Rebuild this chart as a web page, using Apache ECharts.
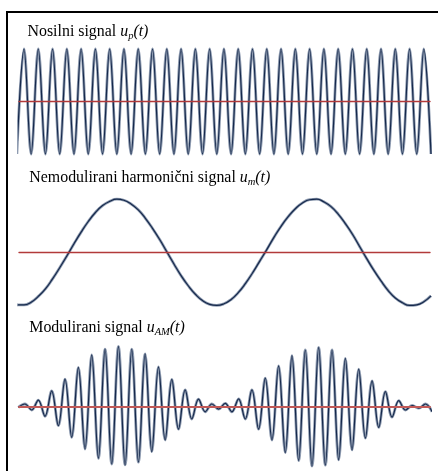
<!DOCTYPE html>
<html><head><meta charset="utf-8">
<script src="https://cdn.jsdelivr.net/npm/echarts@6/dist/echarts.min.js"></script>
<style>html,body{margin:0;padding:0;background:#fff}#c{width:438px;height:471px}</style>
</head><body><div id="c"></div><script>
// Extremum values (one value per half period of the carrier)
const carrierValues = [-1,1,-1,1,-1,1,-1,1,-1,1,-1,1,-1,1,-1,1,-1,1,-1,1,-1,1,-1,1,-1,1,-1,1,-1,1,
  -1,1,-1,1,-1,1,-1,1,-1,1,-1,1,-1,1,-1,1,-1,1,-1,1,-1,1,-1,1,-1,1,-1,1,-1];
const modulatingValues = [-0.99,-0.99,-0.94,-0.83,-0.69,-0.50,-0.29,-0.07,0.16,0.38,
  0.58,0.75,0.88,0.96,1.00,0.98,0.91,0.80,0.64,0.45,
  0.24,0.01,-0.22,-0.44,-0.63,-0.79,-0.91,-0.98,-1.00,-0.97,
  -0.89,-0.76,-0.59,-0.39,-0.17,0.05,0.28,0.49,0.67,0.82,
  0.93,0.99,1.00,0.95,0.86,0.72,0.54,0.34,0.11,-0.12,
  -0.34,-0.54,-0.72,-0.86,-0.95,-1.00,-0.99,-0.93,-0.82];
const amValues = [-0.02,0.09,-0.11,0.22,-0.32,0.53,-0.63,0.92,-1.02,1.31,
  -1.41,1.73,-1.72,1.92,-1.91,2.01,-1.94,1.92,-1.85,1.76,
  -1.50,1.33,-1.11,0.91,-0.75,0.56,-0.41,0.25,-0.17,0.09,
  -0.08,0.11,-0.17,0.26,-0.41,0.56,-0.75,0.95,-1.11,1.36,
  -1.53,1.70,-1.80,1.89,-1.98,1.98,-1.95,1.89,-1.77,1.61,
  -1.44,1.25,-1.05,0.86,-0.69,0.50,-0.35,0.20,-0.11,0.04,
  -0.05,0.09,-0.17];
const panelTitles = [
  ['Nosilni signal ', 'u', 'p', '(t)'],
  ['Nemodulirani harmonični signal ', 'u', 'm', '(t)'],
  ['Modulirani signal ', 'u', 'AM', '(t)']
];

const chart = echarts.init(document.getElementById('c'), null, {renderer:'canvas'});
const grids = [
  {left:19, width:411, top:43.75, height:115.5},
  {left:19, width:411, top:193.9, height:116.8},
  {left:19, width:411, top:343.7, height:126}
];
const xr = [[0.30,57.86],[0.30,57.86],[0.105,61.68]];
const yr = [1.1,1.1,2.1];
const redW = [1.4,1.4,2];
const redC = ['#b23a3a','#b23a3a','#c25a58'];
const xAxis = grids.map((g,i)=>({gridIndex:i,type:'value',min:xr[i][0],max:xr[i][1],
  axisLine:{show:true,onZero:true,lineStyle:{color:redC[i],width:redW[i]}},
  axisTick:{show:false},axisLabel:{show:false},splitLine:{show:false},z:6}));
const yAxis = grids.map((g,i)=>({gridIndex:i,type:'value',min:-yr[i],max:yr[i],show:false}));
const sets = [[carrierValues,0.36],[modulatingValues,0.5],[amValues,0.36]];
const series = [];
sets.forEach(([vals,sm],i)=>{
  const d = vals.map((v,k)=>[k,v]);
  series.push({type:'line',xAxisIndex:i,yAxisIndex:i,data:d,smooth:sm,symbol:'none',silent:true,
    lineStyle:{width:2.8,color:'#8f9cb1'},z:2});
  series.push({type:'line',xAxisIndex:i,yAxisIndex:i,data:d,smooth:sm,symbol:'none',silent:true,
    lineStyle:{width:1.2,color:'#15284b'},z:3});
});
const fam = '"Liberation Serif","Times New Roman",serif';
const rich = {
  n:{fontFamily:fam,fontSize:15.9,lineHeight:20,color:'#000'},
  i:{fontFamily:fam,fontSize:15.9,lineHeight:20,fontStyle:'italic',color:'#000'},
  s:{fontFamily:fam,fontSize:10.5,lineHeight:10,fontStyle:'italic',color:'#000',verticalAlign:'bottom'}
};
const tpos = [[27.5,21.6],[29.3,168],[29.3,318]];
const graphic = [
  {type:'rect',shape:{x:6,y:11,width:432,height:2},style:{fill:'#000'},silent:true},
  {type:'rect',shape:{x:6,y:11,width:2,height:460},style:{fill:'#000'},silent:true}
];
panelTitles.forEach((t,i)=>{
  graphic.push({type:'text',x:tpos[i][0],y:tpos[i][1],silent:true,
    style:{text:'{n|'+t[0]+'}{i|'+t[1]+'}{s|'+t[2]+'}{i|'+t[3]+'}',rich:rich,verticalAlign:'top',align:'left'}});
});
chart.setOption({animation:false,grid:grids,xAxis,yAxis,series,graphic});
</script></body></html>
